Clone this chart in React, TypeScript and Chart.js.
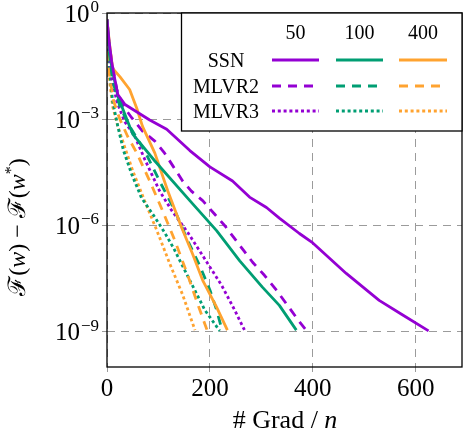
import { useEffect, useRef } from 'react';
import { Chart, registerables } from 'chart.js';

Chart.register(...registerables);

// ---- data (x = # Grad / n, y = F(w) - F(w*)) ----
const ssn50X = [0, 4, 9, 15, 21, 35, 83, 116, 161, 200, 244, 277, 310, 335, 374, 400, 465, 529, 574, 625];
const ssn50Y = [6.5e-1, 1.6e-1, 4.3e-2, 1.4e-2, 5.0e-3, 2.6e-3, 9.5e-4, 5.2e-4, 1.3e-4, 4.5e-5, 1.8e-5, 6.3e-6, 3.2e-6, 1.6e-6, 5.9e-7, 3.2e-7, 4.4e-8, 7.6e-9, 3.0e-9, 1.05e-9];

const ssn100X = [0, 4, 9, 21, 40, 50, 93, 161, 213, 258, 302, 335, 368];
const ssn100Y = [6.5e-1, 1.3e-1, 3.1e-2, 4.5e-3, 8.7e-4, 3.8e-4, 6.6e-5, 5.0e-6, 7.1e-7, 1.0e-7, 1.8e-8, 5.5e-9, 1.1e-9];

const ssn400X = [0, 5, 11, 25, 44, 58, 69, 93, 118, 145, 166, 186, 213, 234];
const ssn400Y = [6.5e-1, 1.3e-1, 2.7e-2, 1.6e-2, 6.9e-3, 2.0e-3, 6.3e-4, 1.1e-4, 9.5e-6, 8.7e-7, 1.6e-7, 2.8e-8, 4.9e-9, 1.1e-9];

const mlvr2_50X = [0, 4, 9, 19, 32, 48, 69, 93, 112, 128, 147, 164, 186, 209, 229, 283, 306, 329, 374, 388];
const mlvr2_50Y = [6.5e-1, 1.4e-1, 4.3e-2, 6.9e-3, 2.3e-3, 1.1e-3, 4.6e-4, 2.4e-4, 1.1e-4, 4.8e-5, 1.8e-5, 9.3e-6, 5.0e-6, 2.1e-6, 9.8e-7, 9.1e-8, 3.9e-8, 1.5e-8, 1.9e-9, 1.05e-9];

const mlvr2_100X = [0, 3, 11, 25, 44, 73, 102, 132, 157, 180, 200, 213, 224];
const mlvr2_100Y = [6.5e-1, 1.1e-1, 1.2e-2, 2.3e-3, 6.3e-4, 1.3e-4, 1.8e-5, 2.6e-6, 3.7e-7, 7.4e-8, 1.5e-8, 4.1e-9, 1.05e-9];

const mlvr2_400X = [0, 2, 5, 13, 25, 40, 58, 83, 108, 132, 157, 177, 195];
const mlvr2_400Y = [6.5e-1, 1.1e-1, 1.6e-2, 3.2e-3, 1.0e-3, 3.3e-4, 1.1e-4, 1.8e-5, 2.6e-6, 3.7e-7, 3.9e-8, 5.6e-9, 1.05e-9];

const mlvr3_50X = [0, 3, 9, 19, 34, 54, 73, 102, 126, 157, 196, 223, 248, 268];
const mlvr3_50Y = [6.5e-1, 1.1e-1, 1.6e-2, 3.2e-3, 8.7e-4, 3.3e-4, 7.6e-5, 9.5e-6, 2.6e-6, 6.3e-7, 8.3e-8, 2.0e-8, 4.1e-9, 1.05e-9];

const mlvr3_100X = [0, 1.5, 5, 11, 21, 32, 48, 67, 93, 112, 130, 161, 190, 219];
const mlvr3_100Y = [6.5e-1, 1.55e-1, 2.2e-2, 3.2e-3, 6.3e-4, 1.3e-4, 2.8e-5, 6.0e-6, 1.7e-6, 6.3e-7, 2.2e-7, 2.8e-8, 4.1e-9, 1.05e-9];

const mlvr3_400X = [0, 2, 5, 11, 21, 34, 50, 73, 97, 122, 147, 171];
const mlvr3_400Y = [6.5e-1, 8.1e-2, 1.2e-2, 2.3e-3, 6.3e-4, 1.7e-4, 3.5e-5, 5.0e-6, 7.1e-7, 8.3e-8, 1.1e-8, 1.1e-9];

const methods = ['SSN', 'MLVR2', 'MLVR3'];
const sizes = ['50', '100', '400'];
const xTicks = [0, 200, 400, 600];
const yTickExps = [0, -3, -6, -9];

const COLORS = ['#9400D3', '#009E73', '#FFA330'];
const DASHES: number[][] = [[], [9, 7], [3, 2.8]];
const FONT = '"Liberation Serif", "DejaVu Serif", serif';

const seriesTable = [
  [[ssn50X, ssn50Y], [ssn100X, ssn100Y], [ssn400X, ssn400Y]],
  [[mlvr2_50X, mlvr2_50Y], [mlvr2_100X, mlvr2_100Y], [mlvr2_400X, mlvr2_400Y]],
  [[mlvr3_50X, mlvr3_50Y], [mlvr3_100X, mlvr3_100Y], [mlvr3_400X, mlvr3_400Y]],
];

type Run = { t: string; it?: boolean; sup?: boolean };

function drawRuns(ctx: CanvasRenderingContext2D, runs: Run[], cx: number, baseY: number, size: number) {
  const fontOf = (r: Run) =>
    `${r.it ? 'italic ' : ''}${r.sup ? Math.round(size * 0.68) : size}px ${FONT}`;
  let total = 0;
  const widths = runs.map((r) => {
    ctx.font = fontOf(r);
    const w = ctx.measureText(r.t).width;
    total += w;
    return w;
  });
  let x = cx - total / 2;
  ctx.textAlign = 'left';
  ctx.textBaseline = 'alphabetic';
  runs.forEach((r, i) => {
    ctx.font = fontOf(r);
    ctx.fillText(r.t, x, r.sup ? baseY - size * 0.38 : baseY);
    x += widths[i];
  });
}

const decorPlugin = {
  id: 'decor',
  afterDraw(chart: any) {
    const { ctx, chartArea: a, scales } = chart;
    ctx.save();
    ctx.setLineDash([]);
    // frame
    ctx.strokeStyle = '#000';
    ctx.lineWidth = 1.3;
    ctx.strokeRect(a.left, a.top, a.right - a.left, a.bottom - a.top);

    // y tick labels 10^k
    ctx.fillStyle = '#000';
    ctx.textBaseline = 'alphabetic';
    const right = 99;
    yTickExps.forEach((e) => {
      const y = scales.y.getPixelForValue(Math.pow(10, e));
      const exp = e === 0 ? '0' : '\u2212' + String(-e);
      ctx.font = `17px ${FONT}`;
      const ew = ctx.measureText(exp).width;
      ctx.textAlign = 'left';
      ctx.fillText(exp, right - ew, y - 1);
      ctx.font = `25px ${FONT}`;
      ctx.textAlign = 'right';
      ctx.fillText('10', right - ew - 1, y + 8.5);
    });

    // y title
    ctx.save();
    ctx.translate(25, 227);
    ctx.rotate(-Math.PI / 2);
    drawRuns(
      ctx,
      [{ t: '\u2131(' }, { t: 'w', it: true }, { t: ') \u2212 \u2131(' }, { t: 'w', it: true }, { t: '*', sup: true }, { t: ')' }],
      0,
      0,
      24
    );
    ctx.restore();

    // x title
    drawRuns(ctx, [{ t: '# Grad / ' }, { t: 'n', it: true }], 285, 428, 26);

    // legend box
    const lx = 181.5, ly = 13, lw = 280.5, lh = 118;
    ctx.fillStyle = '#fff';
    ctx.fillRect(lx, ly, lw, lh);
    ctx.strokeStyle = '#000';
    ctx.lineWidth = 1.3;
    ctx.strokeRect(lx, ly, lw, lh);
    ctx.fillStyle = '#000';
    ctx.font = `20px ${FONT}`;
    ctx.textAlign = 'center';
    const colX = [[272, 319], [336, 383], [399, 447]];
    sizes.forEach((s, j) => ctx.fillText(s, (colX[j][0] + colX[j][1]) / 2, 39));
    const rowY = [60, 86, 111];
    methods.forEach((m, i) => {
      ctx.fillStyle = '#000';
      ctx.textAlign = 'center';
      ctx.font = `20px ${FONT}`;
      ctx.fillText(m, 226, rowY[i] + 6.5);
      colX.forEach(([x0, x1], j) => {
        ctx.strokeStyle = COLORS[j];
        ctx.lineWidth = 3;
        ctx.lineCap = 'butt';
        ctx.setLineDash(DASHES[i]);
        ctx.beginPath();
        ctx.moveTo(x0, rowY[i]);
        ctx.lineTo(x1, rowY[i]);
        ctx.stroke();
      });
    });
    ctx.restore();
  },
};

export default function App() {
  const ref = useRef<HTMLCanvasElement>(null);
  useEffect(() => {
    const datasets: any[] = [];
    seriesTable.forEach((row, i) => {
      row.forEach(([xs, ys], j) => {
        datasets.push({
          label: `${methods[i]} ${sizes[j]}`,
          data: xs.map((x, k) => ({ x, y: ys[k] })),
          borderColor: COLORS[j],
          borderWidth: 2.8,
          borderDash: DASHES[i],
          borderCapStyle: 'butt',
          borderJoinStyle: 'round',
          pointRadius: 0,
          fill: false,
          tension: 0,
        });
      });
    });
    const gridColor = '#9b9b9b';
    const chart = new Chart(ref.current!, {
      type: 'line',
      data: { datasets },
      options: {
        responsive: false,
        animation: false,
        events: [],
        layout: { padding: { top: 13, right: 2, left: 0, bottom: 0 } },
        plugins: { legend: { display: false }, tooltip: { enabled: false } },
        scales: {
          x: {
            type: 'linear',
            min: 0,
            max: 690,
            afterBuildTicks: (s: any) => {
              s.ticks = xTicks.map((v) => ({ value: v }));
            },
            afterFit: (s: any) => {
              s.height = 69;
            },
            ticks: { font: { family: FONT, size: 25 }, color: '#000', padding: 2, maxRotation: 0, autoSkip: false },
            grid: { color: gridColor, lineWidth: 1, tickLength: 5, tickColor: gridColor },
            border: { display: false, dash: [8, 6] },
          },
          y: {
            type: 'logarithmic',
            min: 1e-10,
            max: 1,
            afterBuildTicks: (s: any) => {
              s.ticks = yTickExps.map((e) => ({ value: Math.pow(10, e) }));
            },
            afterFit: (s: any) => {
              s.width = 107;
            },
            ticks: { display: false },
            grid: { color: gridColor, lineWidth: 1, tickLength: 5, tickColor: gridColor },
            border: { display: false, dash: [8, 6] },
          },
        },
      },
      plugins: [decorPlugin],
    } as any);
    return () => chart.destroy();
  }, []);
  return (
    <div style={{ position: 'fixed', left: 0, top: 0, width: 464, height: 436, background: '#fff' }}>
      <canvas ref={ref} width={464} height={436} style={{ display: 'block', width: 464, height: 436 }} />
    </div>
  );
}
